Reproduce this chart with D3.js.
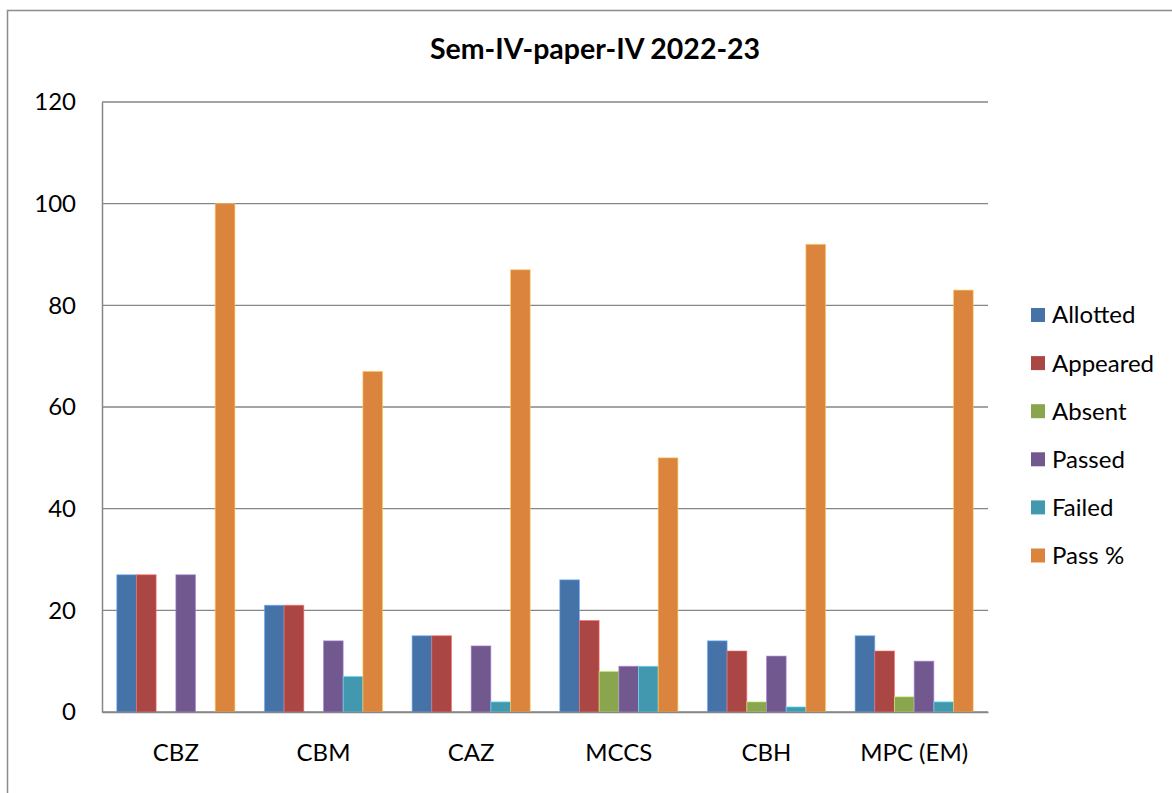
<!DOCTYPE html>
<html>
<head>
<meta charset="utf-8">
<script src="https://cdn.jsdelivr.net/npm/d3@7"></script>
<style>
  body { margin: 0; background: #fff; }
  text { font-family: Lato, "Open Sans", sans-serif; fill: #000; }
</style>
</head>
<body>
<svg id="chart" width="1172" height="793"></svg>
<script>
// chart values
const categories = ["CBZ", "CBM", "CAZ", "MCCS", "CBH", "MPC (EM)"];
const seriesNames = ["Allotted", "Appeared", "Absent", "Passed", "Failed", "Pass %"];
const allotted = [27, 21, 15, 26, 14, 15];
const appeared = [27, 21, 15, 18, 12, 12];
const absent = [0, 0, 0, 8, 2, 3];
const passed = [27, 14, 13, 9, 11, 10];
const failed = [0, 7, 2, 9, 1, 2];
const passPct = [100, 67, 87, 50, 92, 83];
const yTicks = [0, 20, 40, 60, 80, 100, 120];
const colors = ["#4572a7", "#aa4643", "#89a54e", "#71588f", "#4198af", "#db843d"];

const values = [allotted, appeared, absent, passed, failed, passPct];
const rows = [];
categories.forEach((c, i) => {
    seriesNames.forEach((s, j) => rows.push({ cat: c, series: s, value: values[j][i], idx: j }));
});

const svg = d3.select("#chart");
const plot = { left: 102, right: 988, top: 102, bottom: 712 };

// outer chart border (only left and top show in the frame)
svg.append("path")
    .attr("d", "M7.5,793 L7.5,10.5 L1172,10.5")
    .attr("fill", "none")
    .attr("stroke", "#8c8c8c")
    .attr("stroke-width", 1.5);

// Excel-like gap width 150%: category = 7.5 bar widths
const catX = d3.scaleBand().domain(categories).range([plot.left, plot.right]);
const barW = catX.bandwidth() / 7.5;
const x1 = d3.scaleBand().domain(seriesNames).range([0, barW * 6]);
const y = d3.scaleLinear().domain([0, 120]).range([plot.bottom, plot.top]);

// gridlines
svg.append("g")
    .selectAll("line")
    .data(yTicks)
    .enter()
    .append("line")
    .attr("x1", plot.left)
    .attr("x2", plot.right)
    .attr("y1", d => y(d))
    .attr("y2", d => y(d))
    .attr("stroke", "#868686")
    .attr("stroke-width", 1.3);

// bars
svg.append("g")
    .selectAll("rect")
    .data(rows.filter(d => d.value > 0))
    .enter()
    .append("rect")
    .attr("x", d => catX(d.cat) + barW * 0.75 + x1(d.series))
    .attr("y", d => y(d.value))
    .attr("width", x1.bandwidth())
    .attr("height", d => y(0) - y(d.value))
    .attr("fill", d => colors[d.idx])
    .attr("stroke", d => d3.color(colors[d.idx]).brighter(1.2))
    .attr("stroke-opacity", 0.6)
    .attr("stroke-width", 1);

// y axis
const yAxis = svg.append("g")
    .attr("transform", `translate(${plot.left},0)`)
    .call(d3.axisLeft(y).tickValues(yTicks).tickSize(0).tickPadding(26));
yAxis.select(".domain").attr("stroke", "#868686").attr("stroke-width", 1.5);
yAxis.selectAll("text").attr("font-size", "24px").attr("font-family", "Lato, sans-serif").attr("fill", "#000");

// x axis
const xAxis = svg.append("g")
    .attr("transform", `translate(0,${plot.bottom})`)
    .call(d3.axisBottom(catX).tickSize(0).tickPadding(32));
xAxis.select(".domain").attr("stroke", "#868686").attr("stroke-width", 1.5);
xAxis.selectAll("text").attr("font-size", "24px").attr("font-family", "Lato, sans-serif").attr("fill", "#000");

// title
svg.append("text")
    .attr("x", 595)
    .attr("y", 59)
    .attr("text-anchor", "middle")
    .attr("font-size", "28.5px")
    .attr("font-weight", "bold")
    .text("Sem-IV-paper-IV 2022-23");

// legend
const legend = svg.append("g")
    .selectAll("g")
    .data(seriesNames)
    .enter()
    .append("g")
    .attr("transform", (d, i) => `translate(1031,${315 + i * 48.1})`);
legend.append("rect")
    .attr("x", 0)
    .attr("y", -7)
    .attr("width", 14)
    .attr("height", 14)
    .attr("fill", (d, i) => colors[i]);
legend.append("text")
    .attr("x", 21)
    .attr("y", 0)
    .attr("dy", "0.35em")
    .attr("font-size", "24px")
    .text(d => d);
</script>
</body>
</html>
